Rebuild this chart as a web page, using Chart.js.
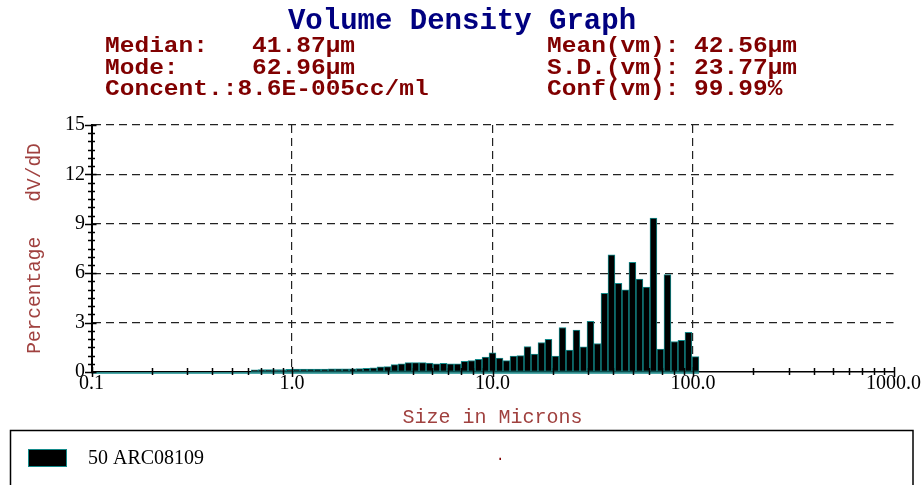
<!DOCTYPE html>
<html>
<head>
<meta charset="utf-8">
<title>Volume Density Graph</title>
<script src="https://cdn.jsdelivr.net/npm/chart.js@4.4.1/dist/chart.umd.min.js"></script>
<style>
    body { margin: 0; background: #fff; }
    #wrap { width: 921px; height: 485px; }
</style>
</head>
<body>
<div id="wrap"><canvas id="density-chart" width="921" height="485"></canvas></div>
<script>
// Channel centres (microns) and volume percentage per channel
const sizes = [
    0.651, 0.705, 0.764, 0.828, 0.897, 0.973, 1.054, 1.142, 1.238, 1.341,
    1.454, 1.575, 1.707, 1.850, 2.005, 2.172, 2.354, 2.551, 2.765, 2.996,
    3.247, 3.518, 3.813, 4.132, 4.478, 4.853, 5.259, 5.699, 6.176, 6.693,
    7.253, 7.860, 8.517, 9.230, 10.00, 10.84, 11.74, 12.73, 13.79, 14.95,
    16.20, 17.55, 19.02, 20.61, 22.34, 24.21, 26.23, 28.43, 30.81, 33.39,
    36.18, 39.21, 42.49, 46.05, 49.89, 54.07, 58.60, 63.50, 68.82, 74.58,
    80.82, 87.58, 94.91, 102.9
];
const volumePct = [
    0.13, 0.14, 0.14, 0.15, 0.15, 0.16, 0.17, 0.17, 0.18, 0.18,
    0.18, 0.19, 0.19, 0.20, 0.20, 0.21, 0.23, 0.26, 0.32, 0.33,
    0.45, 0.50, 0.57, 0.57, 0.57, 0.54, 0.50, 0.53, 0.50, 0.50,
    0.65, 0.70, 0.77, 0.91, 1.17, 0.85, 0.69, 0.97, 0.99, 1.55,
    1.09, 1.79, 1.99, 0.97, 2.70, 1.33, 2.54, 1.53, 3.08, 1.73,
    4.77, 7.12, 5.39, 4.99, 6.66, 5.65, 5.15, 9.34, 1.39, 5.92,
    1.85, 1.93, 2.41, 0.93
];
const xTicks = [0.1, 1, 10, 100, 1000];
const yTicks = [0, 3, 6, 9, 12, 15];
const sampleName = '50 ARC08109';

const chartTitle = 'Volume Density Graph';
const statsLeft = ['Median:   41.87\u00b5m', 'Mode:     62.96\u00b5m', 'Concent.:8.6E-005cc/ml'];
const statsRight = ['Mean(vm): 42.56\u00b5m', 'S.D.(vm): 23.77\u00b5m', 'Conf(vm): 99.99%'];

const MONO = "'Liberation Mono', 'Courier New', monospace";
const SERIF = "'Liberation Serif', 'Times New Roman', serif";
const AXIS_RED = '#a0413f';
const BAR_EDGE = '#138a8a';

// Header block: title plus the summary statistics
const headerPlugin = {
    id: 'header',
    afterDraw(chart) {
        const ctx = chart.ctx;
        ctx.save();
        ctx.textBaseline = 'alphabetic';
        ctx.textAlign = 'center';
        ctx.fillStyle = '#000080';
        ctx.font = `bold 29px ${MONO}`;
        ctx.fillText(chartTitle, 462, 29);

        // stats font is a little wider than it is tall
        const sx = 1.14;
        ctx.textAlign = 'left';
        ctx.fillStyle = '#800000';
        ctx.font = `bold 21.5px ${MONO}`;
        ctx.scale(sx, 1);
        const rows = [52, 73.5, 95];
        statsLeft.forEach((t, i) => ctx.fillText(t, 105 / sx, rows[i]));
        statsRight.forEach((t, i) => ctx.fillText(t, 547 / sx, rows[i]));
        ctx.restore();
    }
};

// Teal channel baseline under the bars
const baselinePlugin = {
    id: 'channelBase',
    beforeDatasetsDraw(chart) {
        const ctx = chart.ctx;
        const x = chart.scales.x;
        const base = chart.scales.y.getPixelForValue(0);
        const bars = chart.getDatasetMeta(0).data;
        const last = bars[bars.length - 1];
        ctx.save();
        ctx.strokeStyle = BAR_EDGE;
        ctx.lineWidth = 1.5;
        ctx.beginPath();
        ctx.moveTo(x.getPixelForValue(xTicks[0]), base + 1);
        ctx.lineTo(last.x + last.width / 2, base + 1);
        ctx.stroke();
        ctx.restore();
    }
};

// Minor and major tick marks on both axes
const ticksPlugin = {
    id: 'tickMarks',
    afterDatasetsDraw(chart) {
        const ctx = chart.ctx;
        const x = chart.scales.x;
        const y = chart.scales.y;
        const base = y.getPixelForValue(0);
        const left = x.getPixelForValue(xTicks[0]);
        ctx.save();
        ctx.strokeStyle = '#000';
        ctx.lineWidth = 1.5;
        ctx.beginPath();
        for (let d = 0; d < xTicks.length - 1; d++) {
            for (let m = 2; m <= 9; m++) {
                const px = Math.round(x.getPixelForValue(xTicks[d] * m)) + 0.5;
                ctx.moveTo(px, base - 4);
                ctx.lineTo(px, base + 3);
            }
        }
        xTicks.forEach(v => {
            const px = Math.round(x.getPixelForValue(v)) + 0.5;
            ctx.moveTo(px, base - 5);
            ctx.lineTo(px, base + 5);
        });
        for (let v = 0.5; v < yTicks[yTicks.length - 1]; v += 0.5) {
            if (v % 3 === 0) continue;
            const py = Math.round(y.getPixelForValue(v)) + 0.5;
            ctx.moveTo(left - 3.5, py);
            ctx.lineTo(left + 3.5, py);
        }
        yTicks.forEach(v => {
            const py = Math.round(y.getPixelForValue(v)) + 0.5;
            ctx.moveTo(left - 6.5, py);
            ctx.lineTo(left + 5, py);
        });
        ctx.stroke();
        ctx.restore();
    }
};

// Legend frame along the bottom edge
const legendBoxPlugin = {
    id: 'legendBox',
    afterDraw(chart) {
        const ctx = chart.ctx;
        const ds = chart.data.datasets[0];
        ctx.save();
        ctx.strokeStyle = '#000';
        ctx.lineWidth = 1.5;
        ctx.strokeRect(10.5, 430.5, 902.5, 120);
        ctx.fillStyle = ds.backgroundColor;
        ctx.fillRect(28, 449, 39, 18);
        ctx.strokeStyle = ds.borderColor;
        ctx.lineWidth = 1;
        ctx.strokeRect(28.5, 449.5, 38, 17);
        ctx.fillStyle = '#000';
        ctx.font = `20px ${SERIF}`;
        ctx.textBaseline = 'middle';
        ctx.fillText(ds.label, 88, 459);
        ctx.fillStyle = '#800000';
        ctx.font = `14px ${MONO}`;
        ctx.fillText('.', 496, 456);
        ctx.restore();
    }
};

const ctx = document.getElementById('density-chart').getContext('2d');
const densityChart = new Chart(ctx, {
    type: 'bar',
    data: {
        datasets: [{
            label: sampleName,
            data: sizes.map((s, i) => ({ x: s, y: volumePct[i] })),
            backgroundColor: '#000000',
            borderColor: BAR_EDGE,
            borderWidth: 1,
            borderSkipped: false,
            barPercentage: 1,
            categoryPercentage: 1
        }]
    },
    options: {
        responsive: false,
        devicePixelRatio: 1,
        animation: false,
        layout: {
            padding: { top: 125, right: 27.5, bottom: 0, left: 0 }
        },
        plugins: {
            legend: { display: false },
            tooltip: { enabled: false }
        },
        scales: {
            x: {
                type: 'logarithmic',
                min: 0.1,
                max: 1000,
                offset: false,
                afterBuildTicks: (scale) => {
                    scale.ticks = xTicks.map(v => ({ value: v }));
                },
                afterFit: (scale) => { scale.height = 113; },
                ticks: {
                    autoSkip: false,
                    maxRotation: 0,
                    padding: 0,
                    color: '#000',
                    font: { family: SERIF, size: 20 },
                    callback: (v) => Number(v).toFixed(1)
                },
                grid: {
                    offset: false,
                    drawTicks: false,
                    lineWidth: 1.2,
                    color: (c) => (c.tick && (c.tick.value === 0.1 || c.tick.value === 1000)) ? 'rgba(0,0,0,0)' : '#222'
                },
                border: { display: true, color: '#000', width: 1.5, dash: [8, 5] },
                title: {
                    display: true,
                    text: 'Size in Microns',
                    color: AXIS_RED,
                    font: { family: MONO, size: 20 },
                    padding: { top: 0, bottom: 55 }
                }
            },
            y: {
                min: 0,
                max: 15,
                afterBuildTicks: (scale) => {
                    scale.ticks = yTicks.map(v => ({ value: v }));
                },
                afterFit: (scale) => { scale.width = 91.5; },
                ticks: {
                    padding: 6.5,
                    color: '#000',
                    font: { family: SERIF, size: 20 }
                },
                grid: {
                    drawTicks: false,
                    lineWidth: 1.2,
                    color: (c) => (c.tick && c.tick.value === 0) ? 'rgba(0,0,0,0)' : '#222'
                },
                border: { display: true, color: '#000', width: 2, dash: [8, 5] },
                title: {
                    display: true,
                    text: 'Percentage   dV/dD',
                    color: AXIS_RED,
                    font: { family: MONO, size: 19.5 },
                    padding: { top: 23.3, bottom: 0 }
                }
            }
        }
    },
    plugins: [headerPlugin, baselinePlugin, ticksPlugin, legendBoxPlugin]
});
</script>
</body>
</html>
